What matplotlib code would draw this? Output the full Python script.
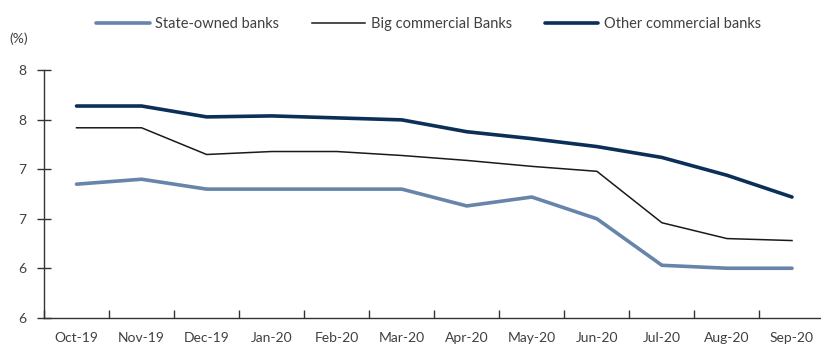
"""Lending rates by bank type, Oct-19 to Sep-20."""
import matplotlib
matplotlib.use("Agg")
import matplotlib.pyplot as plt

months = ["Oct-19", "Nov-19", "Dec-19", "Jan-20", "Feb-20", "Mar-20",
          "Apr-20", "May-20", "Jun-20", "Jul-20", "Aug-20", "Sep-20"]
state_owned = [6.85, 6.90, 6.80, 6.80, 6.80, 6.80, 6.63, 6.72, 6.50, 6.03, 6.00, 6.00]
big_commercial = [7.42, 7.42, 7.15, 7.18, 7.18, 7.14, 7.09, 7.03, 6.98, 6.46, 6.30, 6.28]
other_commercial = [7.64, 7.64, 7.53, 7.54, 7.52, 7.50, 7.38, 7.31, 7.23, 7.12, 6.94, 6.72]
y_ticks = [5.5, 6.0, 6.5, 7.0, 7.5, 8.0]
y_tick_labels = ["6", "6", "7", "7", "8", "8"]

plt.rcParams["font.family"] = ["Lato", "DejaVu Sans"]
plt.rcParams["font.size"] = 10

fig = plt.figure(figsize=(8.21, 3.47), dpi=100)
ax = fig.add_axes([0.0536, 0.0844, 0.9507, 0.7127])

x = range(len(months))
ax.plot(x, state_owned, color="#6785ab", lw=2.6, label="State-owned banks",
        solid_capstyle="round")
ax.plot(x, big_commercial, color="#1a1a1a", lw=1.1, label="Big commercial Banks")
ax.plot(x, other_commercial, color="#0b2f57", lw=2.6, label="Other commercial banks",
        solid_capstyle="round")

ax.set_xlim(-0.5, 11.5)
ax.set_ylim(5.5, 8.0)
ax.set_xticks([i + 0.5 for i in range(-1, 11)], minor=False)
ax.set_xticklabels([])
ax.set_xticks(list(x), minor=True)
ax.set_xticklabels(months, minor=True)
ax.tick_params(axis="x", which="major", direction="in", length=6, width=1, color="#333333")
ax.tick_params(axis="x", which="minor", length=0, pad=10, labelcolor="#404040")
ax.set_yticks(y_ticks)
ax.set_yticklabels(y_tick_labels)
ax.tick_params(axis="y", direction="inout", length=10, width=1, color="#333333",
               labelcolor="#404040", pad=8)

for side in ("top", "right"):
    ax.spines[side].set_visible(False)
for side in ("left", "bottom"):
    ax.spines[side].set_color("#333333")
    ax.spines[side].set_linewidth(1)

fig.text(0.012, 0.875, "(%)", color="#404040", fontsize=10)
fig.legend(loc="center", bbox_to_anchor=(0.522, 0.93), ncol=3, frameon=False,
           fontsize=10.5, handlelength=3.7, handletextpad=0.4, columnspacing=2.2,
           labelcolor="#404040")

fig.savefig("out.png", dpi=100)
